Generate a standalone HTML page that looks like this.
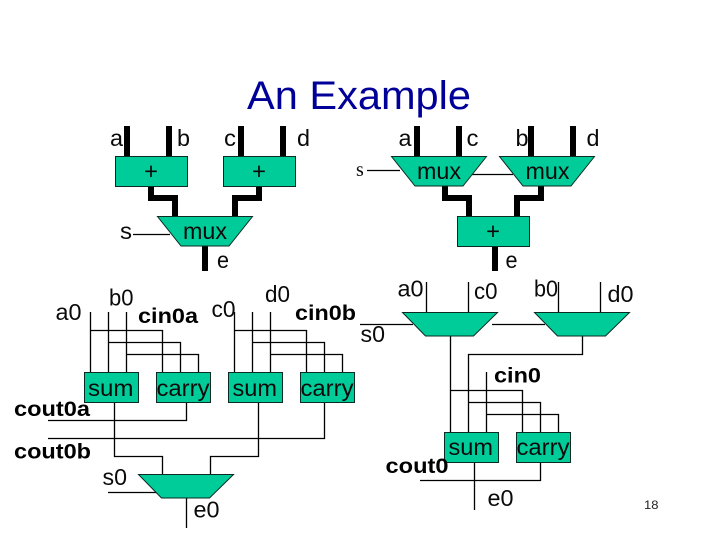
<!DOCTYPE html>
<html><head><meta charset="utf-8"><style>
html,body{margin:0;padding:0;background:#fff}
svg{display:block}
text{font-family:"Liberation Sans",Arial,sans-serif;font-size:23px;fill:#0a0a0a}
.b{font-weight:bold;font-size:21px;fill:#000}
.g{fill:#00cc99;stroke:#0b2b22;stroke-width:1}
.w{fill:none;stroke:#000;stroke-width:1.3}
.t{fill:none;stroke:#000;stroke-width:6;stroke-linejoin:miter}
</style></head><body>
<svg width="720" height="540" viewBox="0 0 720 540" xmlns="http://www.w3.org/2000/svg">
<rect width="720" height="540" fill="#fff"/>
<text x="247" y="109" style="font-size:40px;fill:#000099" textLength="224" lengthAdjust="spacingAndGlyphs">An Example</text>

<!-- thick wires -->
<path class="t" d="M127 126V157M169 126V157M241 126V157M283 126V157
M151 186V198H175V217M259 186V198H235V217M205 246V271
M417 126V157M459 126V157M531 126V157M573 126V157
M445 186V198H469V217M541 186V198H517V217M495 246V271"/>

<!-- thin wires top -->
<path class="w" d="M133 234.5H170M367 170.5H400M472 174.5H513"/>

<!-- blocks top -->
<rect class="g" x="115.5" y="156.5" width="72" height="30"/>
<rect class="g" x="223.5" y="156.5" width="72" height="30"/>
<polygon class="g" points="157.5,216.5 252.5,216.5 229,246 181,246"/>
<polygon class="g" points="391.5,156.5 486.5,156.5 463,186 415,186"/>
<polygon class="g" points="499.5,156.5 594.5,156.5 571,186 523,186"/>
<rect class="g" x="457.5" y="216.5" width="72" height="30"/>

<!-- thin wires left ripple -->
<path class="w" d="M90.5 312V372M108.5 312V372M126.5 312V372
M90.5 330.5H162.5V372M108.5 342.5H180.5V372M126.5 354.5H198.5V372
M234.5 312V372M252.5 312V372M270.5 312V372
M234.5 330.5H306.5V372M252.5 342.5H324.5V372M270.5 354.5H342.5V372
M114.5 402V456.5H162.5V474M258.5 402V456.5H210.5V474
M186.5 402V420.5H48M324.5 402V438.5H48
M108 492.5H157M186.5 498V528"/>

<!-- thin wires right -->
<path class="w" d="M426.5 282V312M468.5 282V312M558.5 282V312M600.5 282V312
M360 324.5H413M492 324.5H545
M450.5 336V432M582.5 336V354.5H468.5V432M486.5 372V432
M450.5 390.5H522.5V432M468.5 402.5H540.5V432M486.5 414.5H558.5V432
M540.5 462V480.5H420M474.5 462V510"/>

<!-- blocks lower -->
<rect class="g" x="84.5" y="372.5" width="54" height="30"/>
<rect class="g" x="156.5" y="372.5" width="54" height="30"/>
<rect class="g" x="228.5" y="372.5" width="54" height="30"/>
<rect class="g" x="300.5" y="372.5" width="54" height="30"/>
<polygon class="g" points="138.5,474.5 233.5,474.5 209.5,498 161.5,498"/>
<polygon class="g" points="402.5,312.5 497.5,312.5 473.5,336 425.5,336"/>
<polygon class="g" points="534.5,312.5 629.5,312.5 605.5,336 557.5,336"/>
<rect class="g" x="444.5" y="432.5" width="54" height="30"/>
<rect class="g" x="516.5" y="432.5" width="54" height="30"/>

<!-- labels top -->
<text x="110" y="146" textLength="13" lengthAdjust="spacingAndGlyphs">a</text>
<text x="177" y="146" textLength="13" lengthAdjust="spacingAndGlyphs">b</text>
<text x="224" y="146" textLength="12" lengthAdjust="spacingAndGlyphs">c</text>
<text x="297" y="146" textLength="13" lengthAdjust="spacingAndGlyphs">d</text>
<text x="144" y="179" textLength="14" lengthAdjust="spacingAndGlyphs">+</text>
<text x="252" y="179" textLength="14" lengthAdjust="spacingAndGlyphs">+</text>
<text x="120" y="239" textLength="12" lengthAdjust="spacingAndGlyphs">s</text>
<text x="183" y="239" textLength="44" lengthAdjust="spacingAndGlyphs">mux</text>
<text x="217" y="268" textLength="12" lengthAdjust="spacingAndGlyphs">e</text>

<text x="356" y="176" style="font-family:'Liberation Serif',serif;font-size:20px">s</text>
<text x="398.5" y="146" textLength="13" lengthAdjust="spacingAndGlyphs">a</text>
<text x="466.5" y="146" textLength="12" lengthAdjust="spacingAndGlyphs">c</text>
<text x="515.5" y="146" textLength="13" lengthAdjust="spacingAndGlyphs">b</text>
<text x="586.5" y="146" textLength="13" lengthAdjust="spacingAndGlyphs">d</text>
<text x="417" y="179" textLength="44" lengthAdjust="spacingAndGlyphs">mux</text>
<text x="525.5" y="179" textLength="44" lengthAdjust="spacingAndGlyphs">mux</text>
<text x="486" y="239" textLength="14" lengthAdjust="spacingAndGlyphs">+</text>
<text x="505.5" y="268" textLength="12" lengthAdjust="spacingAndGlyphs">e</text>

<!-- labels left ripple -->
<text x="55.5" y="320" textLength="26" lengthAdjust="spacingAndGlyphs">a0</text>
<text x="109" y="305.5" textLength="24.5" lengthAdjust="spacingAndGlyphs">b0</text>
<text class="b" x="138" y="323" textLength="60" lengthAdjust="spacingAndGlyphs">cin0a</text>
<text x="211.5" y="317" textLength="24" lengthAdjust="spacingAndGlyphs">c0</text>
<text x="265" y="302" textLength="25" lengthAdjust="spacingAndGlyphs">d0</text>
<text class="b" x="295" y="320" textLength="61" lengthAdjust="spacingAndGlyphs">cin0b</text>
<text x="360.5" y="342" textLength="24.5" lengthAdjust="spacingAndGlyphs">s0</text>
<text x="88" y="396" textLength="45.5" lengthAdjust="spacingAndGlyphs">sum</text>
<text x="156.5" y="396" textLength="53" lengthAdjust="spacingAndGlyphs">carry</text>
<text x="232.5" y="396" textLength="44.5" lengthAdjust="spacingAndGlyphs">sum</text>
<text x="300.5" y="396" textLength="53" lengthAdjust="spacingAndGlyphs">carry</text>
<text class="b" x="14" y="416" textLength="76" lengthAdjust="spacingAndGlyphs">cout0a</text>
<text class="b" x="14" y="458.5" textLength="77" lengthAdjust="spacingAndGlyphs">cout0b</text>
<text x="102.5" y="485" textLength="24.5" lengthAdjust="spacingAndGlyphs">s0</text>
<text x="193.5" y="517.5" textLength="26" lengthAdjust="spacingAndGlyphs">e0</text>

<!-- labels right -->
<text x="397.5" y="296.5" textLength="26" lengthAdjust="spacingAndGlyphs">a0</text>
<text x="474" y="299" textLength="23.5" lengthAdjust="spacingAndGlyphs">c0</text>
<text x="534" y="296.5" textLength="24" lengthAdjust="spacingAndGlyphs">b0</text>
<text x="607.5" y="302" textLength="26" lengthAdjust="spacingAndGlyphs">d0</text>
<text class="b" x="494" y="382.5" textLength="47" lengthAdjust="spacingAndGlyphs">cin0</text>
<text x="448.5" y="455" textLength="44.5" lengthAdjust="spacingAndGlyphs">sum</text>
<text x="516.5" y="455" textLength="53" lengthAdjust="spacingAndGlyphs">carry</text>
<text class="b" x="385.5" y="473" textLength="63" lengthAdjust="spacingAndGlyphs">cout0</text>
<text x="487.5" y="506" textLength="26" lengthAdjust="spacingAndGlyphs">e0</text>
<text x="644" y="509" style="font-size:12px;fill:#222" textLength="14.5" lengthAdjust="spacingAndGlyphs">18</text>
</svg>
</body></html>
